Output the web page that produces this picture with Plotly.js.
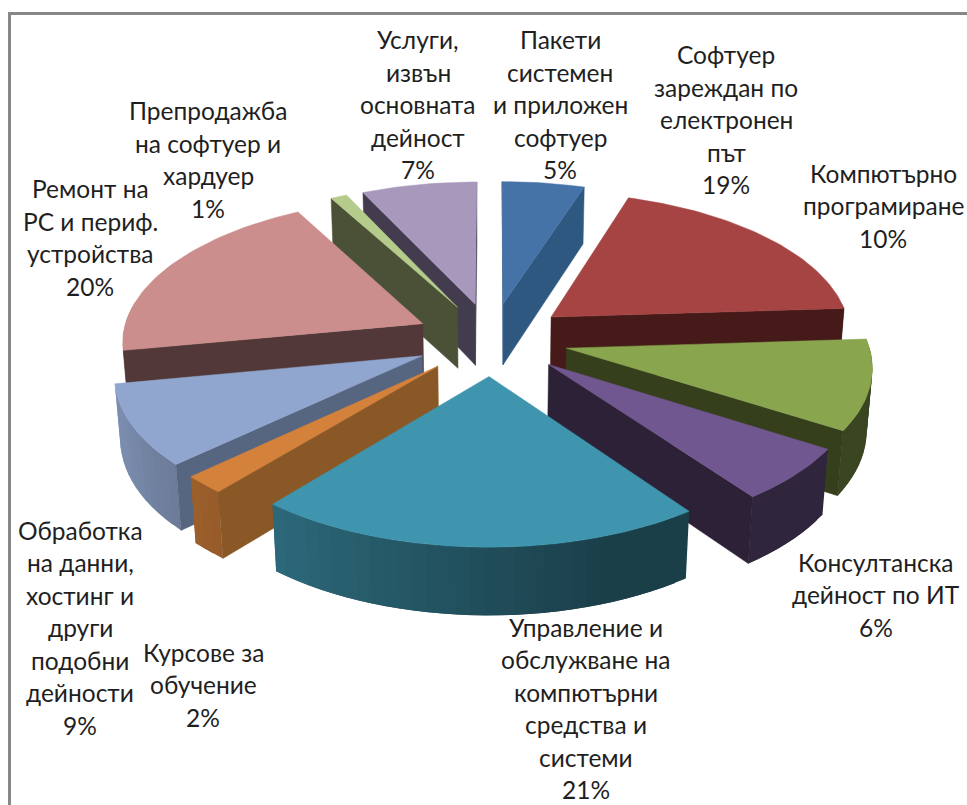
<!DOCTYPE html>
<html>
<head>
<meta charset="utf-8">
<script src="https://cdn.plot.ly/plotly-3.0.1.min.js"></script>
<style>html,body{margin:0;padding:0;background:#fff}#chart{width:967px;height:805px}</style>
</head>
<body>
<div id="chart"></div>
<script>
// Structure of the IT sector turnover, one exploded 3D pie
const categories = [
  ['Пакети', 'системен', 'и приложен', 'софтуер'],
  ['Софтуер', 'зареждан по', 'електронен', 'път'],
  ['Компютърно', 'програмиране'],
  ['Консултанска', 'дейност по ИТ'],
  ['Управление и', 'обслужване на', 'компютърни', 'средства и', 'системи'],
  ['Курсове за', 'обучение'],
  ['Обработка', 'на данни,', 'хостинг и', 'други', 'подобни', 'дейности'],
  ['Ремонт на', 'РС и периф.', 'устройства'],
  ['Препродажба', 'на софтуер и', 'хардуер'],
  ['Услуги,', 'извън', 'основната', 'дейност']
];
const values = [5, 19, 10, 6, 21, 2, 9, 20, 1, 7];

const topColors  = ['#4573a7', '#a54442', '#89a54e', '#71578f', '#3f95ae', '#d4813b', '#91a6ce', '#cb8e8c', '#b5cb8b', '#a898bc'];
const sideColors = ['#2f5880', '#451a18', '#363f1c', '#2c2137', '#1b3c48', '#8a5826', '#566680', '#523838', '#4a5136', '#423c4e'];

// Label block centres and line pitch
const labelCentreX = [560, 726, 883, 876, 586, 203, 80, 90, 208, 418];
const labelCentreY = [104.5, 119.5, 205.5, 594.5, 708.5, 684.5, 627.5, 237.5, 159.5, 104.5];
const labelPitch = 32.5;

// Camera: unit pie on the plane, depth and height foreshortened in screen pixels
const view = {cx: 491.5, cy: 339, A: 301, B: 143, H: 63, k: 0.11, m: 0.015, explode: 0.255};
const deg = Math.PI / 180;

function project(X, Y, z) {
  const w = 1 + view.k * Y + view.m * z;
  return [view.cx + view.A * X / w, view.cy - (view.B * Y - view.H * z) / w];
}

function hexToRgb(h) {
  return [1, 3, 5].map(i => parseInt(h.substr(i, 2), 16));
}
function shadeColor(hex, f) {
  return 'rgb(' + hexToRgb(hex).map(c => Math.round(c * f)).join(',') + ')';
}
// Curved wall light falls off towards the right-hand front of the pie
function wallShade(theta) {
  const t = Math.min(1, Math.max(0, (theta - 160) / 90));
  return 0.42 + 0.43 * t;
}

function polygon(points, color, edge) {
  return {
    type: 'scatter', mode: 'lines', fill: 'toself', fillcolor: color,
    x: points.map(p => p[0]), y: points.map(p => p[1]),
    line: {color: color, width: edge}, hoverinfo: 'skip', showlegend: false
  };
}

const total = values.reduce((a, b) => a + b, 0);
let running = 0;
const slices = values.map((v, i) => {
  const a0 = running / total * 360;
  running += v;
  const a1 = running / total * 360;
  return {i, a0, a1, mid: (a0 + a1) / 2};
});

function sliceTraces(s) {
  const ox = view.explode * Math.sin(s.mid * deg);
  const oy = view.explode * Math.cos(s.mid * deg);
  const rim = (a, z) => project(ox + Math.sin(a * deg), oy + Math.cos(a * deg), z);
  const apex = z => project(ox, oy, z);
  const out = [];
  const side = sideColors[s.i];
  const top = topColors[s.i];

  // Curved face: narrow strips, each running under the next so no seams show
  const n = Math.max(2, Math.ceil((s.a1 - s.a0) / 2.5));
  const step = (s.a1 - s.a0) / n;
  for (let j = 0; j < n; j++) {
    const p = s.a0 + step * j;
    const q = p + step;
    if (Math.cos((p + q) / 2 * deg) > 0.1) continue;
    const reach = j < n - 1 ? q + step : q;
    out.push(polygon([rim(p, 0), rim(reach, 0), rim(reach, 1), rim(p, 1), rim(p, 0)],
                     shadeColor(top, wallShade((p + q) / 2)), 0));
  }

  // Radial faces, only those turned towards the camera
  const depth = 1 / view.k;
  const sees0 = ox * Math.cos(s.a0 * deg) - depth * Math.sin(s.a0 * deg) > 0;
  const sees1 = depth * Math.sin(s.a1 * deg) - ox * Math.cos(s.a1 * deg) > 0;
  if (sees0) out.push(polygon([apex(0), rim(s.a0, 0), rim(s.a0, 1), apex(1), apex(0)], side, 0.5));
  if (sees1) out.push(polygon([apex(0), rim(s.a1, 0), rim(s.a1, 1), apex(1), apex(0)], side, 0.5));

  // Top face
  const pts = [apex(0)];
  const m = Math.max(4, Math.ceil((s.a1 - s.a0) / 1.5));
  for (let j = 0; j <= m; j++) pts.push(rim(s.a0 + (s.a1 - s.a0) * j / m, 0));
  pts.push(apex(0));
  out.push(polygon(pts, top, 0.5));
  return out;
}

// Paint from the back of the pie to the front
const traces = slices.slice()
  .sort((a, b) => Math.cos(b.mid * deg) - Math.cos(a.mid * deg))
  .flatMap(sliceTraces);

const annotations = [];
categories.forEach((lines, i) => {
  const all = lines.concat([values[i] + '%']);
  all.forEach((text, j) => {
    annotations.push({
      x: labelCentreX[i],
      y: labelCentreY[i] + (j - (all.length - 1) / 2) * labelPitch,
      xref: 'x', yref: 'y', text: text, showarrow: false,
      xanchor: 'center', yanchor: 'middle',
      font: {family: 'Lato, "Noto Sans", sans-serif', size: 24.5, color: '#1f1f1f'}
    });
  });
});

const layout = {
  width: 967, height: 805,
  margin: {l: 0, r: 0, t: 0, b: 0},
  paper_bgcolor: '#ffffff', plot_bgcolor: '#ffffff',
  showlegend: false,
  xaxis: {range: [0, 967], visible: false, fixedrange: true},
  yaxis: {range: [805, 0], visible: false, fixedrange: true},
  annotations: annotations,
  shapes: [
    {type: 'line', xref: 'x', yref: 'y', x0: 9.5, x1: 967, y0: 13.5, y1: 13.5, line: {color: '#878787', width: 3}},
    {type: 'line', xref: 'x', yref: 'y', x0: 9.5, x1: 9.5, y0: 12, y1: 805, line: {color: '#878787', width: 3}}
  ]
};

Plotly.newPlot('chart', traces, layout, {displayModeBar: false, staticPlot: true});
</script>
</body>
</html>
